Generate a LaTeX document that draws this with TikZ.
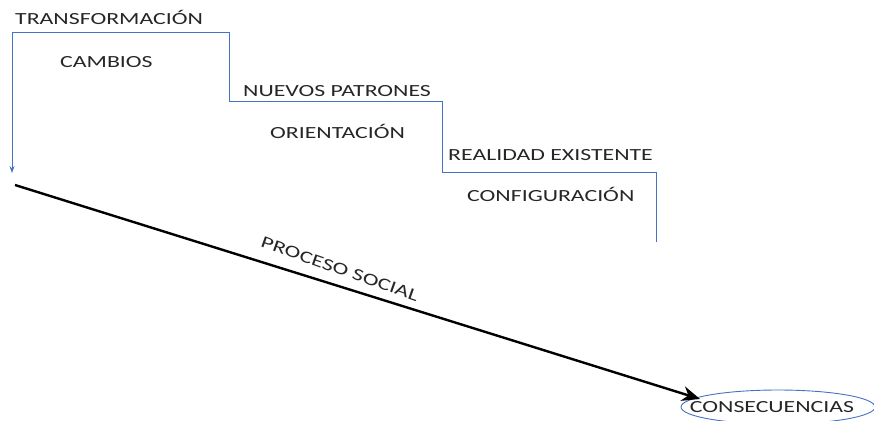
\documentclass[tikz,border=0pt]{standalone}
\usepackage{fontspec}
\setmainfont[FakeStretch=1.4]{Carlito}
\usetikzlibrary{arrows.meta,shapes.geometric}
\definecolor{stairblue}{HTML}{4472C4}
\begin{document}
\begin{tikzpicture}[x=1pt,y=-1pt,
  lbl/.style={anchor=west,inner sep=0pt,font=\fontsize{17}{17}\selectfont,text height=11pt,text depth=0pt,text=black!85},
  stair/.style={draw=stairblue,line width=0.9pt},
  proc/.style={draw=black,line width=2.4pt}]
\useasboundingbox (0,0) rectangle (874,420);
% staircase corners
\coordinate (s0) at (656,242);
\coordinate (s1) at (656,172);
\coordinate (s2) at (442,172);
\coordinate (s3) at (442,101);
\coordinate (s4) at (229,101);
\coordinate (s5) at (229,32);
\coordinate (s6) at (12,32);
\coordinate (s7) at (12,173);
\draw[stair,-{Stealth[length=7pt,width=5pt]}] (s0) -- (s1) -- (s2) -- (s3) -- (s4) -- (s5) -- (s6) -- (s7);
% labels
\node[lbl] (t1) at (15,19) {TRANSFORMACIÓN};
\node[lbl] (t2) at (60,62) {CAMBIOS};
\node[lbl] (t3) at (243,91) {NUEVOS PATRONES};
\node[lbl] (t4) at (270,133) {ORIENTACIÓN};
\node[lbl] (t5) at (448,155) {REALIDAD EXISTENTE};
\node[lbl] (t6) at (467,196) {CONFIGURACIÓN};
% consequences
\node[ellipse,draw=stairblue,line width=0.9pt,minimum width=194pt,minimum height=34pt,inner sep=0pt] (cons) at (778,407) {};
\node[lbl,anchor=center] (ct) at (772,407) {CONSECUENCIAS};
% process arrow
\coordinate (p0) at (15,185);
\coordinate (p1) at (700,399);
\draw[proc,-{Stealth[length=18pt,width=15pt]}] (p0) -- (p1);
\node[lbl,anchor=center,rotate=-19.5] (ps) at (340,269) {PROCESO SOCIAL};
\end{tikzpicture}
\end{document}
